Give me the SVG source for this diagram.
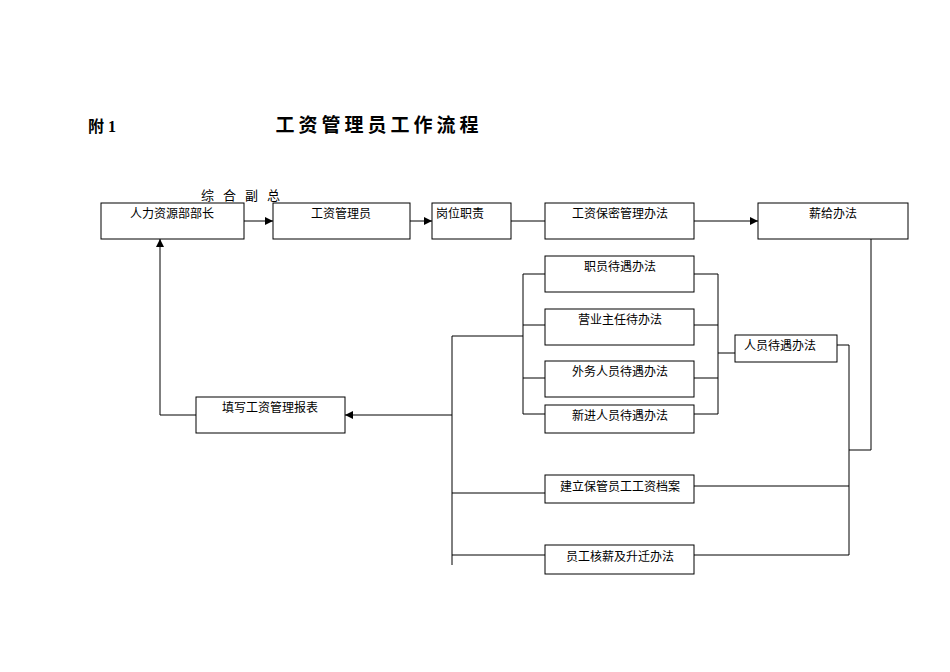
<svg xmlns="http://www.w3.org/2000/svg" width="950" height="672" viewBox="0 0 950 672">
<style>
rect{fill:#fff;stroke:#000;stroke-width:1}
text{font-family:"Liberation Serif","Noto Sans CJK SC",serif;font-size:12px;fill:#000;text-anchor:middle}
.c{fill:none;stroke:#000;stroke-width:1}
</style>
<defs><marker id="a" viewBox="0 0 10 10" refX="10" refY="5" markerWidth="8" markerHeight="8" markerUnits="userSpaceOnUse" orient="auto"><path d="M0,0L10,5L0,10z"/></marker></defs>
<rect x="0" y="0" width="950" height="672" style="stroke:none"/>
<text x="102" y="132" style="font-size:16px;font-weight:bold">附 1</text>
<text x="379" y="132" style="font-size:19px;font-weight:bold;letter-spacing:4px">工资管理员工作流程</text>
<text x="245" y="200" style="font-size:13px;letter-spacing:9px">综合副总</text>
<g id="n1"><rect x="101" y="203" width="143" height="36"/><text x="172" y="218">人力资源部部长</text></g>
<g id="n2"><rect x="273" y="203" width="137" height="36"/><text x="341" y="218">工资管理员</text></g>
<g id="n3"><rect x="432" y="203" width="79" height="36"/><text x="460" y="218">岗位职责</text></g>
<g id="n4"><rect x="545" y="203" width="149" height="36"/><text x="620" y="218">工资保密管理办法</text></g>
<g id="n5"><rect x="758" y="203" width="150" height="36"/><text x="833" y="218">薪给办法</text></g>
<g id="n6"><rect x="545" y="256" width="149" height="36"/><text x="620" y="271">职员待遇办法</text></g>
<g id="n7"><rect x="545" y="309" width="149" height="36"/><text x="620" y="324">营业主任待办法</text></g>
<g id="n8"><rect x="545" y="361" width="149" height="36"/><text x="620" y="376">外务人员待遇办法</text></g>
<g id="n9"><rect x="545" y="405" width="149" height="28"/><text x="620" y="420">新进人员待遇办法</text></g>
<g id="n10"><rect x="735" y="335" width="102" height="27"/><text x="780" y="350">人员待遇办法</text></g>
<g id="n11"><rect x="196" y="397" width="149" height="36"/><text x="270" y="412">填写工资管理报表</text></g>
<g id="n12"><rect x="545" y="475" width="149" height="28"/><text x="620" y="491">建立保管员工工资档案</text></g>
<g id="n13"><rect x="545" y="545" width="149" height="29"/><text x="620" y="561">员工核薪及升迁办法</text></g>
<g id="edges">
<path class="c" d="M244,221H273" marker-end="url(#a)"/>
<path class="c" d="M410,221H432" marker-end="url(#a)"/>
<path class="c" d="M511,221H545"/>
<path class="c" d="M694,221H758" marker-end="url(#a)"/>
<path class="c" d="M871,239V450H849"/>
<path class="c" d="M545,274H523V414H545M523,325H545M523,378H545M523,336H452V565M452,493H545M452,555H545"/>
<path class="c" d="M694,274H718V414H694M694,325H718M694,378H718M718,353H735"/>
<path class="c" d="M837,345H849V555H694M694,486H849"/>
<path class="c" d="M452,415H345" marker-end="url(#a)"/>
<path class="c" d="M196,415H160V239" marker-end="url(#a)"/>
</g>
</svg>
